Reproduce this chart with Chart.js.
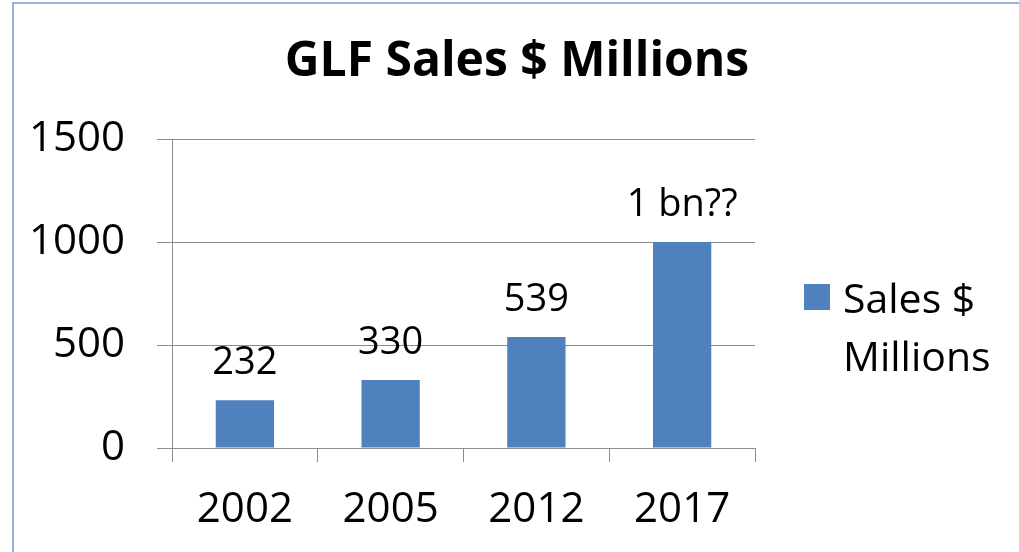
<!DOCTYPE html>
<html>
<head>
<meta charset="utf-8">
<script src="https://cdn.jsdelivr.net/npm/chart.js"></script>
<style>
  html, body { margin: 0; padding: 0; background: #fff; }
  #wrap { position: relative; width: 1019px; height: 552px; overflow: hidden; }
  #frame { position: absolute; left: 12px; top: 2px; width: 1100px; height: 700px;
           border-left: 2px solid #93b3dd; border-top: 2px solid #93b3dd; }
  canvas { position: absolute; left: 0; top: 0; }
</style>
</head>
<body>
<div id="wrap">
  <div id="frame"></div>
  <canvas id="salesChart" width="1019" height="552"></canvas>
</div>
<script>
const chartTitle = 'GLF Sales $ Millions';
const years = ['2002', '2005', '2012', '2017'];
const sales = [232, 330, 539, 1000];
const barLabels = ['232', '330', '539', '1 bn??'];
const seriesName = ['Sales $', 'Millions'];

const FONT = '"Open Sans"';
const gridColor = '#8c8c8c';
const barColor = '#4f81bd';

// title, value labels and the two-line legend
const extras = {
    id: 'extras',
    afterDatasetsDraw(chart) {
        const ctx = chart.ctx;
        const meta = chart.getDatasetMeta(0);
        ctx.save();
        ctx.fillStyle = '#000';
        ctx.textAlign = 'center';
        ctx.textBaseline = 'alphabetic';
        ctx.font = '38px ' + FONT;
        meta.data.forEach((bar, i) => {
            ctx.fillText(barLabels[i], bar.x, bar.y - 26);
        });

        ctx.font = 'bold 48px ' + FONT;
        ctx.fillText(chartTitle, 517, 76);

        ctx.fillStyle = chart.data.datasets[0].backgroundColor;
        ctx.fillRect(804, 284, 26, 26);
        ctx.fillStyle = '#000';
        ctx.textAlign = 'left';
        ctx.font = '41px ' + FONT;
        seriesName.forEach((t, i) => ctx.fillText(t, 843, 313 + i * 58));
        ctx.restore();
    }
};

const ctx = document.getElementById('salesChart').getContext('2d');

new Chart(ctx, {
    type: 'bar',
    data: {
        labels: years,
        datasets: [{
            label: seriesName.join(' '),
            data: sales,
            backgroundColor: barColor,
            barPercentage: 0.4,
            categoryPercentage: 1.0
        }]
    },
    options: {
        responsive: false,
        animation: false,
        layout: { padding: { left: 16, right: 264, top: 139, bottom: 0 } },
        plugins: {
            legend: { display: false },
            title: { display: false },
            tooltip: { enabled: false }
        },
        scales: {
            x: {
                grid: { drawOnChartArea: false, drawTicks: true, tickLength: 14, color: gridColor },
                border: { display: true, color: gridColor },
                ticks: { color: '#000', font: { family: FONT, size: 42 }, padding: 23, maxRotation: 0 },
                afterFit(scale) { scale.height = 104; }
            },
            y: {
                min: 0,
                max: 1500,
                grid: { color: gridColor, tickLength: 15 },
                border: { display: true, color: gridColor },
                ticks: {
                    stepSize: 500, color: '#000', font: { family: FONT, size: 42 }, padding: 32,
                    callback: (v) => String(v)
                },
                afterFit(scale) { scale.width = 156; }
            }
        }
    },
    plugins: [extras]
});
</script>
</body>
</html>
